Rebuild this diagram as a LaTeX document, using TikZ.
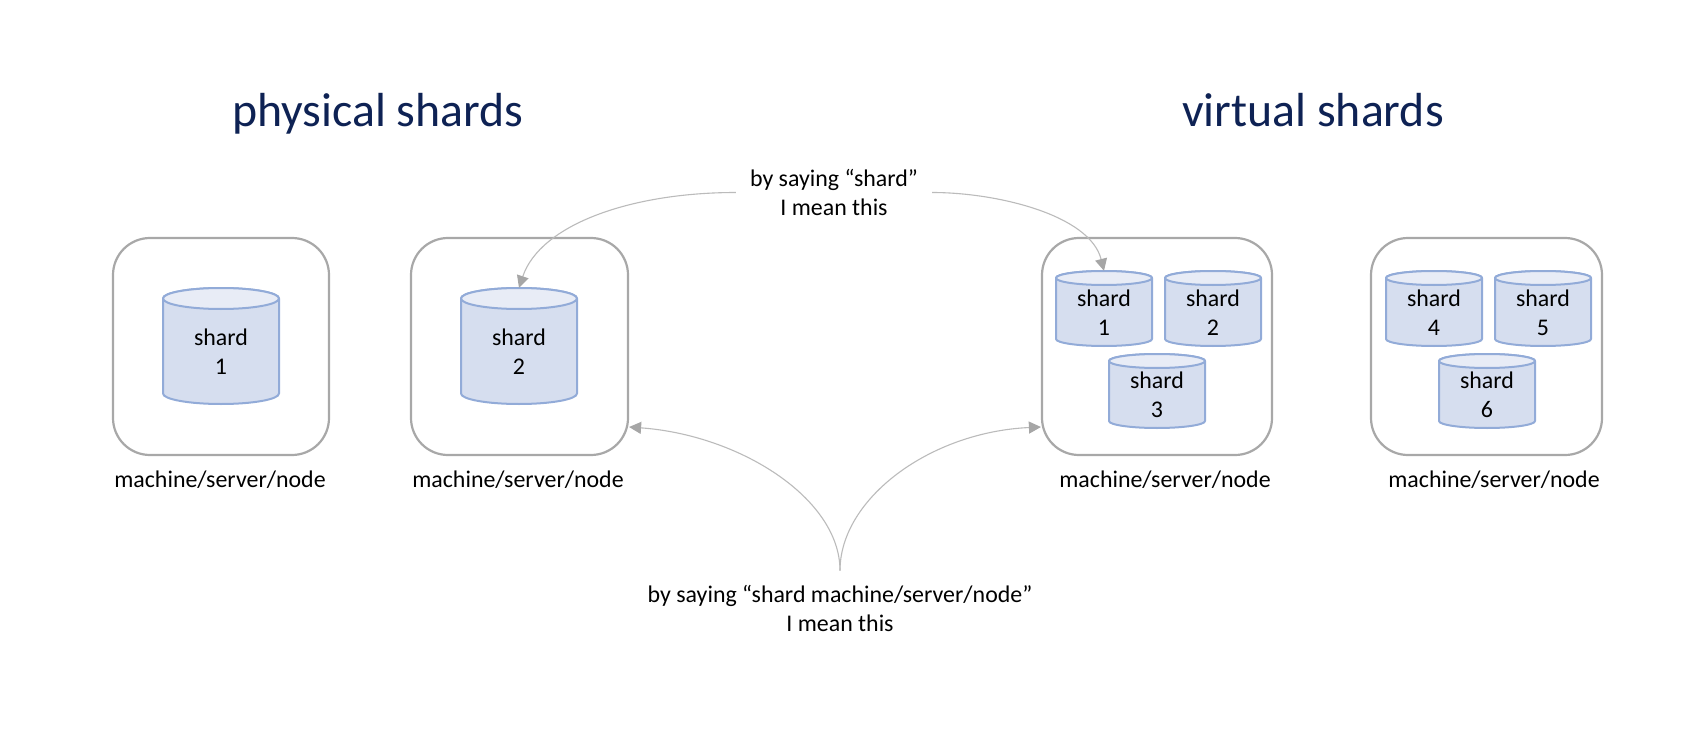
\documentclass[tikz,border=0pt]{standalone}
\usepackage{fontspec}
\setmainfont{Carlito}
\usetikzlibrary{arrows.meta}
\definecolor{boxgray}{HTML}{A8A8A8}
\definecolor{linkgray}{HTML}{BBBBBB}
\definecolor{tipgray}{HTML}{A6A6A6}
\definecolor{cylline}{HTML}{92ABD8}
\definecolor{cylbody}{HTML}{D6DEEF}
\definecolor{cyltop}{HTML}{E8ECF6}
\definecolor{navytitle}{HTML}{0E2254}
\tikzset{
  machine/.style={draw=boxgray,line width=2.2pt,rounded corners=37pt,fill=white,inner sep=0pt,minimum width=#1,minimum height=217pt},
  machinelabel/.style={font=\fontsize{23.9}{28}\selectfont,text=black,inner sep=0pt},
  headline/.style={font=\fontsize{47.8}{54}\selectfont,text=navytitle,inner sep=0pt,anchor=base},
  note/.style={font=\fontsize{23.9}{29}\selectfont,align=center,text=black},
  cylshape/.style={draw=cylline,line width=2pt,line join=round},
  cylnode/.style={inner sep=0pt,font=\fontsize{23.9}{29}\selectfont,align=center,text=black},
  link/.style={draw=linkgray,line width=1.1pt},
  linkarrow/.style={link,-{Triangle[length=12pt,width=12pt,color=tipgray]}}
}
\newcommand{\shardcyl}[8]{% name, cx, top, w, h, ry, number, label shift
  \pgfmathsetmacro{\cylhw}{#4/2}
  \pgfmathsetmacro{\cylL}{#2-\cylhw}
  \pgfmathsetmacro{\cylR}{#2+\cylhw}
  \pgfmathsetmacro{\cylT}{#3+#6}
  \pgfmathsetmacro{\cylB}{#3+#5-#6}
  \pgfmathsetmacro{\cylM}{#3+#5/2}
  \path[cylshape,fill=cylbody] (\cylL,\cylT) -- (\cylL,\cylB)
     arc[start angle=180,end angle=360,x radius=\cylhw pt,y radius=#6pt]
     -- (\cylR,\cylT)
     arc[start angle=0,end angle=180,x radius=\cylhw pt,y radius=#6pt] -- cycle;
  \path[cylshape,fill=cyltop] (#2,\cylT) ellipse[x radius=\cylhw pt,y radius=#6pt];
  \node[cylnode,minimum width=#4pt,minimum height=#5pt,
        label={[cylnode,yshift=#8pt]center:shard\\#7}] (#1) at (#2,\cylM) {};
}
\begin{document}
\begin{tikzpicture}[x=1pt,y=-1pt]
\useasboundingbox (0,0) rectangle (1703,746);
\fill[white] (0,0) rectangle (1703,746);

\node[headline] (physical) at (378,127) {physical shards};
\node[headline] (virtual) at (1313,127) {virtual shards};

\node[machine=216pt] (m1) at (221,346.5) {};
\node[machine=217pt] (m2) at (519.5,346.5) {};
\node[machine=230pt] (m3) at (1157,346.5) {};
\node[machine=231pt] (m4) at (1486.5,346.5) {};

\node[machinelabel] (l1) at (220,480) {machine/server/node};
\node[machinelabel] (l2) at (518,480) {machine/server/node};
\node[machinelabel] (l3) at (1165,480) {machine/server/node};
\node[machinelabel] (l4) at (1494,480) {machine/server/node};

\shardcyl{a1}{221}{288}{116}{116}{10.5}{1}{-6}
\shardcyl{a2}{519}{288}{116}{116}{10.5}{2}{-6}
\shardcyl{b1}{1104}{271}{96}{75}{7}{1}{-4}
\shardcyl{b2}{1213}{271}{96}{75}{7}{2}{-4}
\shardcyl{b3}{1157}{354}{96}{74}{7}{3}{-4}
\shardcyl{b4}{1434}{271}{96}{75}{7}{4}{-4}
\shardcyl{b5}{1543}{271}{96}{75}{7}{5}{-4}
\shardcyl{b6}{1487}{354}{96}{74}{7}{6}{-4}

\node[note,inner xsep=14pt,inner ysep=0pt] (topnote) at (834,192.5) {by saying “shard”\\I mean this};
\node[note,inner xsep=0pt,inner ysep=14pt] (botnote) at (840,608) {by saying “shard machine/server/node”\\I mean this};

\draw[linkarrow] (topnote.west) .. controls +(-106,0) and (540,225) .. (a2.north);
\draw[linkarrow] (topnote.east) .. controls +(65,0) and (1090,215) .. (b1.north);
\draw[linkarrow] (botnote.north) .. controls +(0,-72) and (740,435) .. ([yshift=-80.5pt]m2.east);
\draw[linkarrow] (botnote.north) .. controls +(0,-72) and (930,432) .. ([yshift=-80.5pt]m3.west);
\end{tikzpicture}
\end{document}
